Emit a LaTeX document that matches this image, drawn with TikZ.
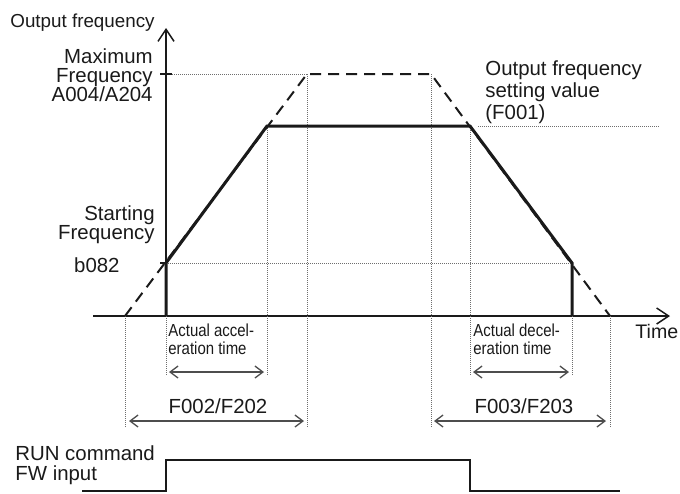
\documentclass[tikz,border=0pt]{standalone}
\usepackage{fontspec}
\setmainfont{Liberation Sans}
\usepackage{graphicx}
\usepackage{tikz}
\usetikzlibrary{arrows.meta,calc}
\definecolor{frqInk}{HTML}{1A1A1A}
\definecolor{frqGuide}{HTML}{6E6E6E}
\definecolor{frqSpan}{HTML}{4D4D4D}
\tikzset{
  frqaxis/.style={draw=frqInk, line width=.75pt,
    -{Straight Barb[length=6pt,width=8pt]}},
  frqcurve/.style={draw=frqInk, line width=1.5pt, line join=miter},
  frqramp/.style={draw=frqInk, line width=1pt,
    dash pattern=on 5.5pt off 3.5pt},
  frqguide/.style={draw=frqGuide, line width=.35pt,
    dash pattern=on .5pt off .5pt},
  frqtick/.style={draw=frqInk, line width=1.25pt},
  frqspan/.style={draw=frqSpan, line width=.65pt,
    {Straight Barb[length=4pt,width=6pt]}-{Straight Barb[length=4pt,width=6pt]}},
  frqsignal/.style={draw=frqInk, line width=1.4pt, line join=miter},
  frqlabel/.style={font=\fontsize{10.2}{9.6}\selectfont, text=frqInk,
    inner sep=0pt},
  frqsmall/.style={font=\fontsize{8.7}{9}\selectfont,
    text=frqInk, inner sep=0pt, align=left},
}
\newcommand{\frqnarrow}[1]{\scalebox{.86}[1]{#1}}

\begin{document}
\begin{tikzpicture}[x=.5pt,y=-.5pt]
  \path[use as bounding box] (0,0) rectangle (680,493);

  % Axes and the levels read off them.
  \coordinate (orig) at (166,316);
  \coordinate (ytop) at (166,28);
  \coordinate (xleft) at (93,316);
  \coordinate (xright) at (670,316);
  \coordinate (maxtick) at (160,74);
  \coordinate (maxlevel) at (172,74);
  \coordinate (starttick) at (160,263);
  \coordinate (startlevel) at (166,263);

  % Ramp corners: nominal (dashed) and actual (solid).
  \coordinate (nomstart) at (125,316);
  \coordinate (nomtop) at (307,74);
  \coordinate (nomfall) at (431,74);
  \coordinate (nomend) at (610,316);
  \coordinate (actup) at (267,126);
  \coordinate (actdown) at (470,126);
  \coordinate (actlow) at (572,263);
  \coordinate (actend) at (572,316);
  \coordinate (setfrom) at (478,126);
  \coordinate (setto) at (659,126);

  \draw[frqaxis] (xleft)--(xright);
  \draw[frqaxis] (orig)--(ytop);
  \draw[frqtick] (maxtick)--(maxlevel);
  \draw[frqtick] (starttick)--(startlevel);

  % Guide lines.
  \draw[frqguide] (maxlevel)--(nomtop);
  \draw[frqguide] (startlevel)--(actlow);
  \draw[frqguide] (setfrom)--(setto);
  \draw[frqguide] (nomstart)--(nomstart|-0,427);
  \draw[frqguide] (orig)--(orig|-0,375);
  \draw[frqguide] (actup)--(actup|-0,376);
  \draw[frqguide] (nomtop)--(nomtop|-0,427);
  \draw[frqguide] (nomfall)--(nomfall|-0,427);
  \draw[frqguide] (actdown)--(actdown|-0,376);
  \draw[frqguide] (actend)--(actend|-0,376);
  \draw[frqguide] (nomend)--(nomend|-0,427);

  \draw[frqramp] (nomstart)--(nomtop)--(nomfall)--(nomend);
  \draw[frqcurve] (orig)--(startlevel)--(actup)--(actdown)--(actlow)
    --(actend);

  % Labels on the frequency axis.
  \node[frqlabel,anchor=base east,font=\fontsize{9.4}{9.6}\selectfont]
    (outfreq) at (155,27) {Output frequency};
  \node[frqlabel,align=right,anchor=north east] (maxfreq) at (153,48)
    {Maximum\\Frequency\\A004/A204};
  \node[frqlabel,align=right,anchor=north east] (startfreq) at (155,205)
    {Starting\\Frequency};
  \node[frqlabel,anchor=base east] (bval) at (120,272) {b082};
  \node[frqlabel,align=left,anchor=north west,
    font=\fontsize{10.2}{11.2}\selectfont] (setval) at (485,60)
    {Output frequency\\setting value\\(F001)};
  \node[frqlabel,anchor=base west,font=\fontsize{9.8}{10}\selectfont]
    (timelbl) at (635,338) {Time};

  % Time spans below the axis.
  \node[frqsmall,anchor=north west] (accactual) at (168,323)
    {\frqnarrow{Actual accel-}\\\frqnarrow{eration time}};
  \node[frqsmall,anchor=north west] (decactual) at (473,323)
    {\frqnarrow{Actual decel-}\\\frqnarrow{eration time}};
  \coordinate (accfrom) at (169,372);
  \coordinate (accto) at (264,372);
  \coordinate (decfrom) at (473,372);
  \coordinate (decto) at (569,372);
  \coordinate (accnomfrom) at (129,421);
  \coordinate (accnomto) at (304,421);
  \coordinate (decnomfrom) at (434,421);
  \coordinate (decnomto) at (606,421);
  \draw[frqspan] (accfrom)--(accto);
  \draw[frqspan] (decfrom)--(decto);
  \draw[frqspan] (accnomfrom)--(accnomto);
  \draw[frqspan] (decnomfrom)--(decnomto);
  \node[frqlabel,anchor=base] (acctime) at (218,413) {F002/F202};
  \node[frqlabel,anchor=base] (dectime) at (524,413) {F003/F203};

  % RUN command trace.
  \node[frqlabel,align=left,anchor=north west,
    font=\fontsize{10.2}{10}\selectfont] (runcmd) at (15,445)
    {RUN command\\FW input};
  \coordinate (runoff) at (82,491);
  \coordinate (runrise) at (166,491);
  \coordinate (runon) at (166,460);
  \coordinate (runfall) at (470,460);
  \coordinate (runlow) at (470,491);
  \coordinate (runend) at (620,491);
  \draw[frqsignal] (runoff)--(runrise)--(runon)--(runfall)--(runlow)
    --(runend);
\end{tikzpicture}
\end{document}
